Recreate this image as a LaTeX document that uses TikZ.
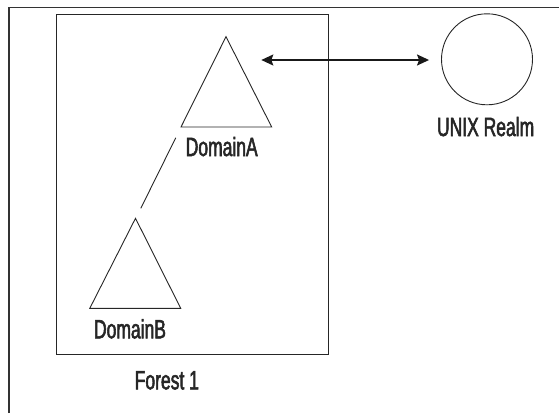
\documentclass[tikz,border=0pt]{standalone}
\usepackage{fontspec}
\setmainfont[FakeStretch=0.66,FakeBold=2]{Liberation Sans}
\usetikzlibrary{arrows.meta}
\begin{document}
\begin{tikzpicture}[x=1pt,y=-1pt,
  outline/.style={draw=black!85,line width=0.9pt},
  lbl/.style={font=\fontsize{26.5}{26.5}\selectfont,anchor=base,inner sep=0pt,text=black!85},
  link/.style={draw=black!90,line width=1.6pt,{Stealth[length=12pt,width=11pt,inset=2pt]}-{Stealth[length=12pt,width=11pt,inset=2pt]}}]
\useasboundingbox (0,0) rectangle (559,413);
% outer frame (partially visible)
\draw[line width=1.2pt,black!80] (9,413) -- (9,7.3) -- (559,7.3);
% forest box
\draw[outline] (56,14) rectangle (328,354);
% Domain A triangle
\coordinate (aTop) at (226,36.7);
\coordinate (aL) at (181,127);
\coordinate (aR) at (271.7,127);
\draw[outline,line join=miter] (aTop) -- (aR) -- (aL) -- cycle;
% Domain B triangle
\coordinate (bTop) at (135.5,218.3);
\coordinate (bL) at (89.8,308.3);
\coordinate (bR) at (180.7,308.3);
\draw[outline,line join=miter] (bTop) -- (bR) -- (bL) -- cycle;
% labels
\node[lbl] (domA) at (221.7,156) {DomainA};
\node[lbl] (domB) at (130,338.3) {DomainB};
\node[lbl] (unix) at (485.6,136) {UNIX Realm};
\node[lbl] (forest) at (166.8,389.3) {Forest 1};
% realm circle
\node[draw=black!85,line width=0.9pt,circle,minimum size=91pt,inner sep=0pt] (realm) at (487,59.3) {};
% trust link between A and B
\coordinate (lnA) at (175.8,137.7);
\coordinate (lnB) at (140.8,208.3);
\draw[outline] (lnA) -- (lnB);
% arrow A <-> realm
\coordinate (arA) at (261.3,60);
\draw[link,shorten >=12pt] (arA) -- (realm.west |- arA);
\end{tikzpicture}
\end{document}
